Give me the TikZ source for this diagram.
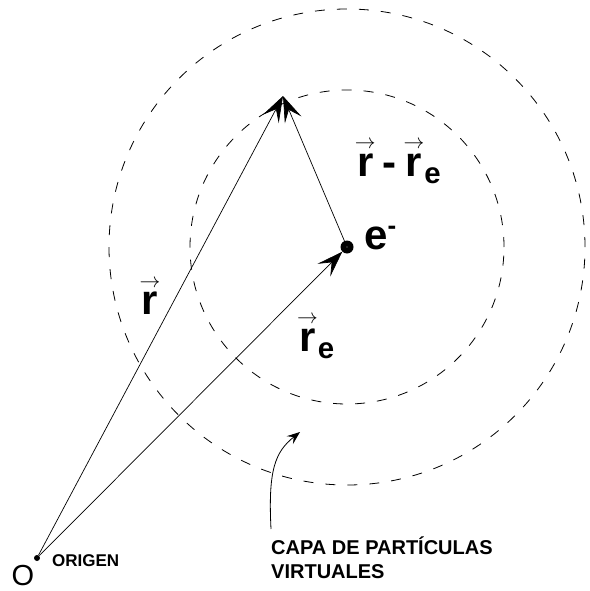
\documentclass[tikz,border=0pt]{standalone}
\usepackage{amsmath}
\usepackage{fontspec}
\setmainfont{Liberation Sans}
\usetikzlibrary{arrows.meta,positioning}

\newcommand{\vect}[1]{\ensuremath{\overset{\scriptscriptstyle\rightarrow}{\text{#1}}}}
\newcommand{\negsup}{\raisebox{15pt}{\fontsize{26}{26}\selectfont -}}

\begin{document}
\begin{tikzpicture}[
    x=1pt, y=-1pt,
    shell/.style={dash pattern=on 10pt off 12pt, line width=0.8pt},
    vec/.style={line width=0.7pt, -{Stealth[length=26pt,width=18pt,inset=11pt]}},
    charge/.style={circle, fill=black, minimum size=13pt, inner sep=0pt},
    biglabel/.style={font=\fontsize{42}{46}\selectfont\bfseries, inner sep=0pt},
    smalllabel/.style={font=\fontsize{17}{20}\selectfont\bfseries, inner sep=0pt},
    note/.style={font=\fontsize{20}{24}\selectfont\bfseries, align=left, inner sep=0pt},
]
\useasboundingbox (0,0) rectangle (589,591);

% --- Points ---
\node[charge] (e) at (347,247) {};
\fill[white!60!black] (e.center) circle[radius=0.7pt];
\node[circle, fill=black, minimum size=6pt, inner sep=0pt] (orig) at (37,558) {};
\coordinate (tip) at (283,96);

% --- Shells of virtual particles ---
\draw[shell] (e.center) circle[radius=157pt];
\draw[shell] (e.center) circle[radius=238pt];

% --- Vectors ---
\draw[vec] (orig) -- (tip);
\draw[vec] (orig) -- (e);
\draw[vec] (e) -- (tip);

% --- Labels ---
\node[biglabel] (rlab) at (150,296) {\vect{r}};
\node[biglabel] (relab) at (316,336) {\vect{r}$_{\text{e}}$};
\node[biglabel] (difflab) at (398,161) {\vect{r}\,-\,\vect{r}$_{\text{e}}$};
\node[biglabel, anchor=west] (elab) at (364,238) {e\negsup};
\node[font=\fontsize{29}{32}\selectfont, inner sep=0pt] (olab) at (23,576) {O};
\node[smalllabel, anchor=west] (origlab) at (52,561) {ORIGEN};

% --- Shell note ---
\node[note, anchor=north west] (capa) at (271,537) {CAPA DE PARTÍCULAS\\VIRTUALES};
\coordinate (shellpt) at (300,432);
\draw[line width=0.8pt, -{Stealth[length=13pt,width=10pt,inset=5pt]}]
    (capa.north west) ++(0,-8) .. controls (268,470) and (275,452) .. (shellpt);

\end{tikzpicture}
\end{document}
